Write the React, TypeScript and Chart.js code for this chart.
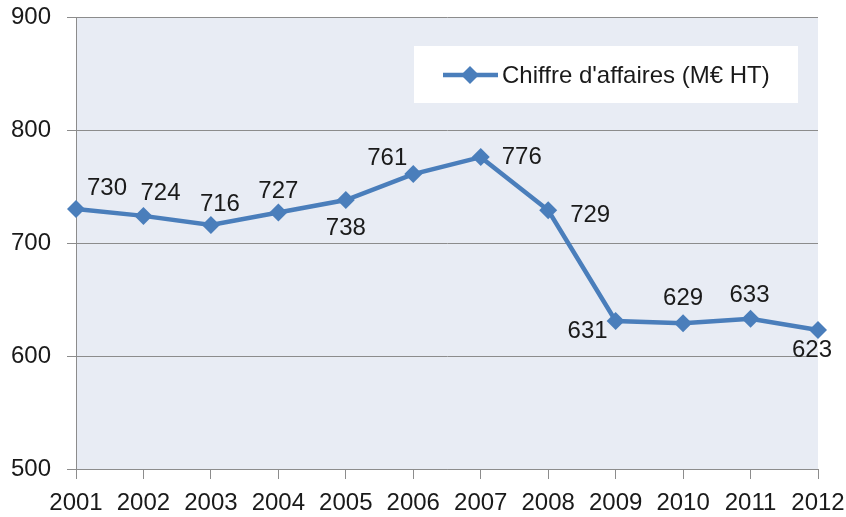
import React, { useEffect, useRef } from 'react';
import { Chart, registerables } from 'chart.js';

Chart.register(...registerables);

// ---- Data ----
const years = ['2001', '2002', '2003', '2004', '2005', '2006', '2007', '2008', '2009', '2010', '2011', '2012'];
const revenue = [730, 724, 716, 727, 738, 761, 776, 729, 631, 629, 633, 623];
const seriesLabel = "Chiffre d'affaires (M€ HT)";
const yMin = 500;
const yMax = 900;
const yStep = 100;

// ---- Layout / style (label placement relative to each point) ----
const labelOffsets: [number, number][] = [
  [31, -23], [17, -24], [9, -23], [0, -23], [0, 26], [-26, -18],
  [41, -2], [42, 3], [-28, 8], [0, -27], [-1, -25], [-6, 18],
];

const FONT = '"Liberation Sans", Arial, sans-serif';
const FONT_SIZE = 24;
const CAP = 0.716 * FONT_SIZE;
const LINE_COLOR = '#4A7EBB';
const TEXT_COLOR = '#1a1a1a';
const GRID_COLOR = '#8c8c8c';
const PLOT_BG = '#E8ECF4';

const plotBg = {
  id: 'plotBg',
  beforeDraw(chart: any) {
    const { ctx, chartArea } = chart;
    const { left, top, right, bottom } = chartArea;
    ctx.save();
    ctx.fillStyle = PLOT_BG;
    ctx.fillRect(left, top, right - left, bottom - top);
    ctx.restore();
  },
};

function diamond(ctx: CanvasRenderingContext2D, x: number, y: number, r: number) {
  ctx.beginPath();
  ctx.moveTo(x, y - r);
  ctx.lineTo(x + r, y);
  ctx.lineTo(x, y + r);
  ctx.lineTo(x - r, y);
  ctx.closePath();
  ctx.fill();
}

const dataLabels = {
  id: 'dataLabels',
  afterDatasetsDraw(chart: any) {
    const { ctx } = chart;
    const meta = chart.getDatasetMeta(0);
    ctx.save();
    ctx.font = `${FONT_SIZE}px ${FONT}`;
    ctx.fillStyle = TEXT_COLOR;
    ctx.textAlign = 'center';
    ctx.textBaseline = 'alphabetic';
    meta.data.forEach((pt: any, i: number) => {
      const [dx, dy] = labelOffsets[i];
      ctx.fillText(String(revenue[i]), pt.x + dx, pt.y + dy + CAP / 2);
    });
    ctx.restore();
  },
};

const legendBox = {
  id: 'legendBox',
  afterDraw(chart: any) {
    const { ctx } = chart;
    ctx.save();
    ctx.fillStyle = '#ffffff';
    ctx.fillRect(414, 46, 384, 57);
    ctx.strokeStyle = LINE_COLOR;
    ctx.lineWidth = 4.5;
    ctx.beginPath();
    ctx.moveTo(443, 75);
    ctx.lineTo(498, 75);
    ctx.stroke();
    ctx.fillStyle = LINE_COLOR;
    diamond(ctx, 470, 75, 9);
    ctx.font = `${FONT_SIZE}px ${FONT}`;
    ctx.fillStyle = TEXT_COLOR;
    ctx.textAlign = 'left';
    ctx.textBaseline = 'alphabetic';
    ctx.fillText(seriesLabel, 502, 83);
    ctx.restore();
  },
};

export default function App() {
  const ref = useRef<HTMLCanvasElement | null>(null);

  useEffect(() => {
    if (!ref.current) return;
    const chart = new Chart(ref.current, {
      type: 'line',
      data: {
        labels: years,
        datasets: [
          {
            label: seriesLabel,
            data: revenue,
            borderColor: LINE_COLOR,
            backgroundColor: LINE_COLOR,
            borderWidth: 4.5,
            pointStyle: 'rectRot',
            pointRadius: 9,
            pointBorderWidth: 0,
            pointBackgroundColor: LINE_COLOR,
            tension: 0,
            fill: false,
          },
        ],
      },
      options: {
        responsive: false,
        animation: false,
        devicePixelRatio: 1,
        layout: { padding: { top: 17, right: 28, left: 0, bottom: 0 } },
        plugins: {
          legend: { display: false },
          tooltip: { enabled: false },
        },
        scales: {
          x: {
            offset: false,
            grid: {
              drawOnChartArea: false,
              drawTicks: true,
              tickLength: 10,
              color: GRID_COLOR,
            },
            border: { display: true, color: GRID_COLOR },
            ticks: {
              color: TEXT_COLOR,
              font: { family: FONT, size: FONT_SIZE },
              padding: 10,
              maxRotation: 0,
              autoSkip: false,
            },
            afterFit(scale: any) {
              scale.height = 48;
              scale.paddingLeft = 0;
              scale.paddingRight = 0;
              scale.paddingTop = 0;
              scale.paddingBottom = 0;
            },
          },
          y: {
            min: yMin,
            max: yMax,
            grid: {
              color: GRID_COLOR,
              lineWidth: 1,
              drawTicks: true,
              tickLength: 9,
            },
            border: { display: true, color: GRID_COLOR },
            ticks: {
              stepSize: yStep,
              color: TEXT_COLOR,
              font: { family: FONT, size: FONT_SIZE },
              padding: 16,
            },
            afterFit(scale: any) {
              scale.width = 76;
              scale.paddingLeft = 0;
              scale.paddingRight = 0;
              scale.paddingTop = 0;
              scale.paddingBottom = 0;
            },
          },
        },
      },
      plugins: [plotBg, dataLabels, legendBox],
    });
    return () => chart.destroy();
  }, []);

  return (
    <div style={{ position: 'fixed', left: 0, top: 0, width: 846, height: 517, background: '#ffffff' }}>
      <canvas ref={ref} width={846} height={517} style={{ display: 'block', width: 846, height: 517 }} />
    </div>
  );
}
